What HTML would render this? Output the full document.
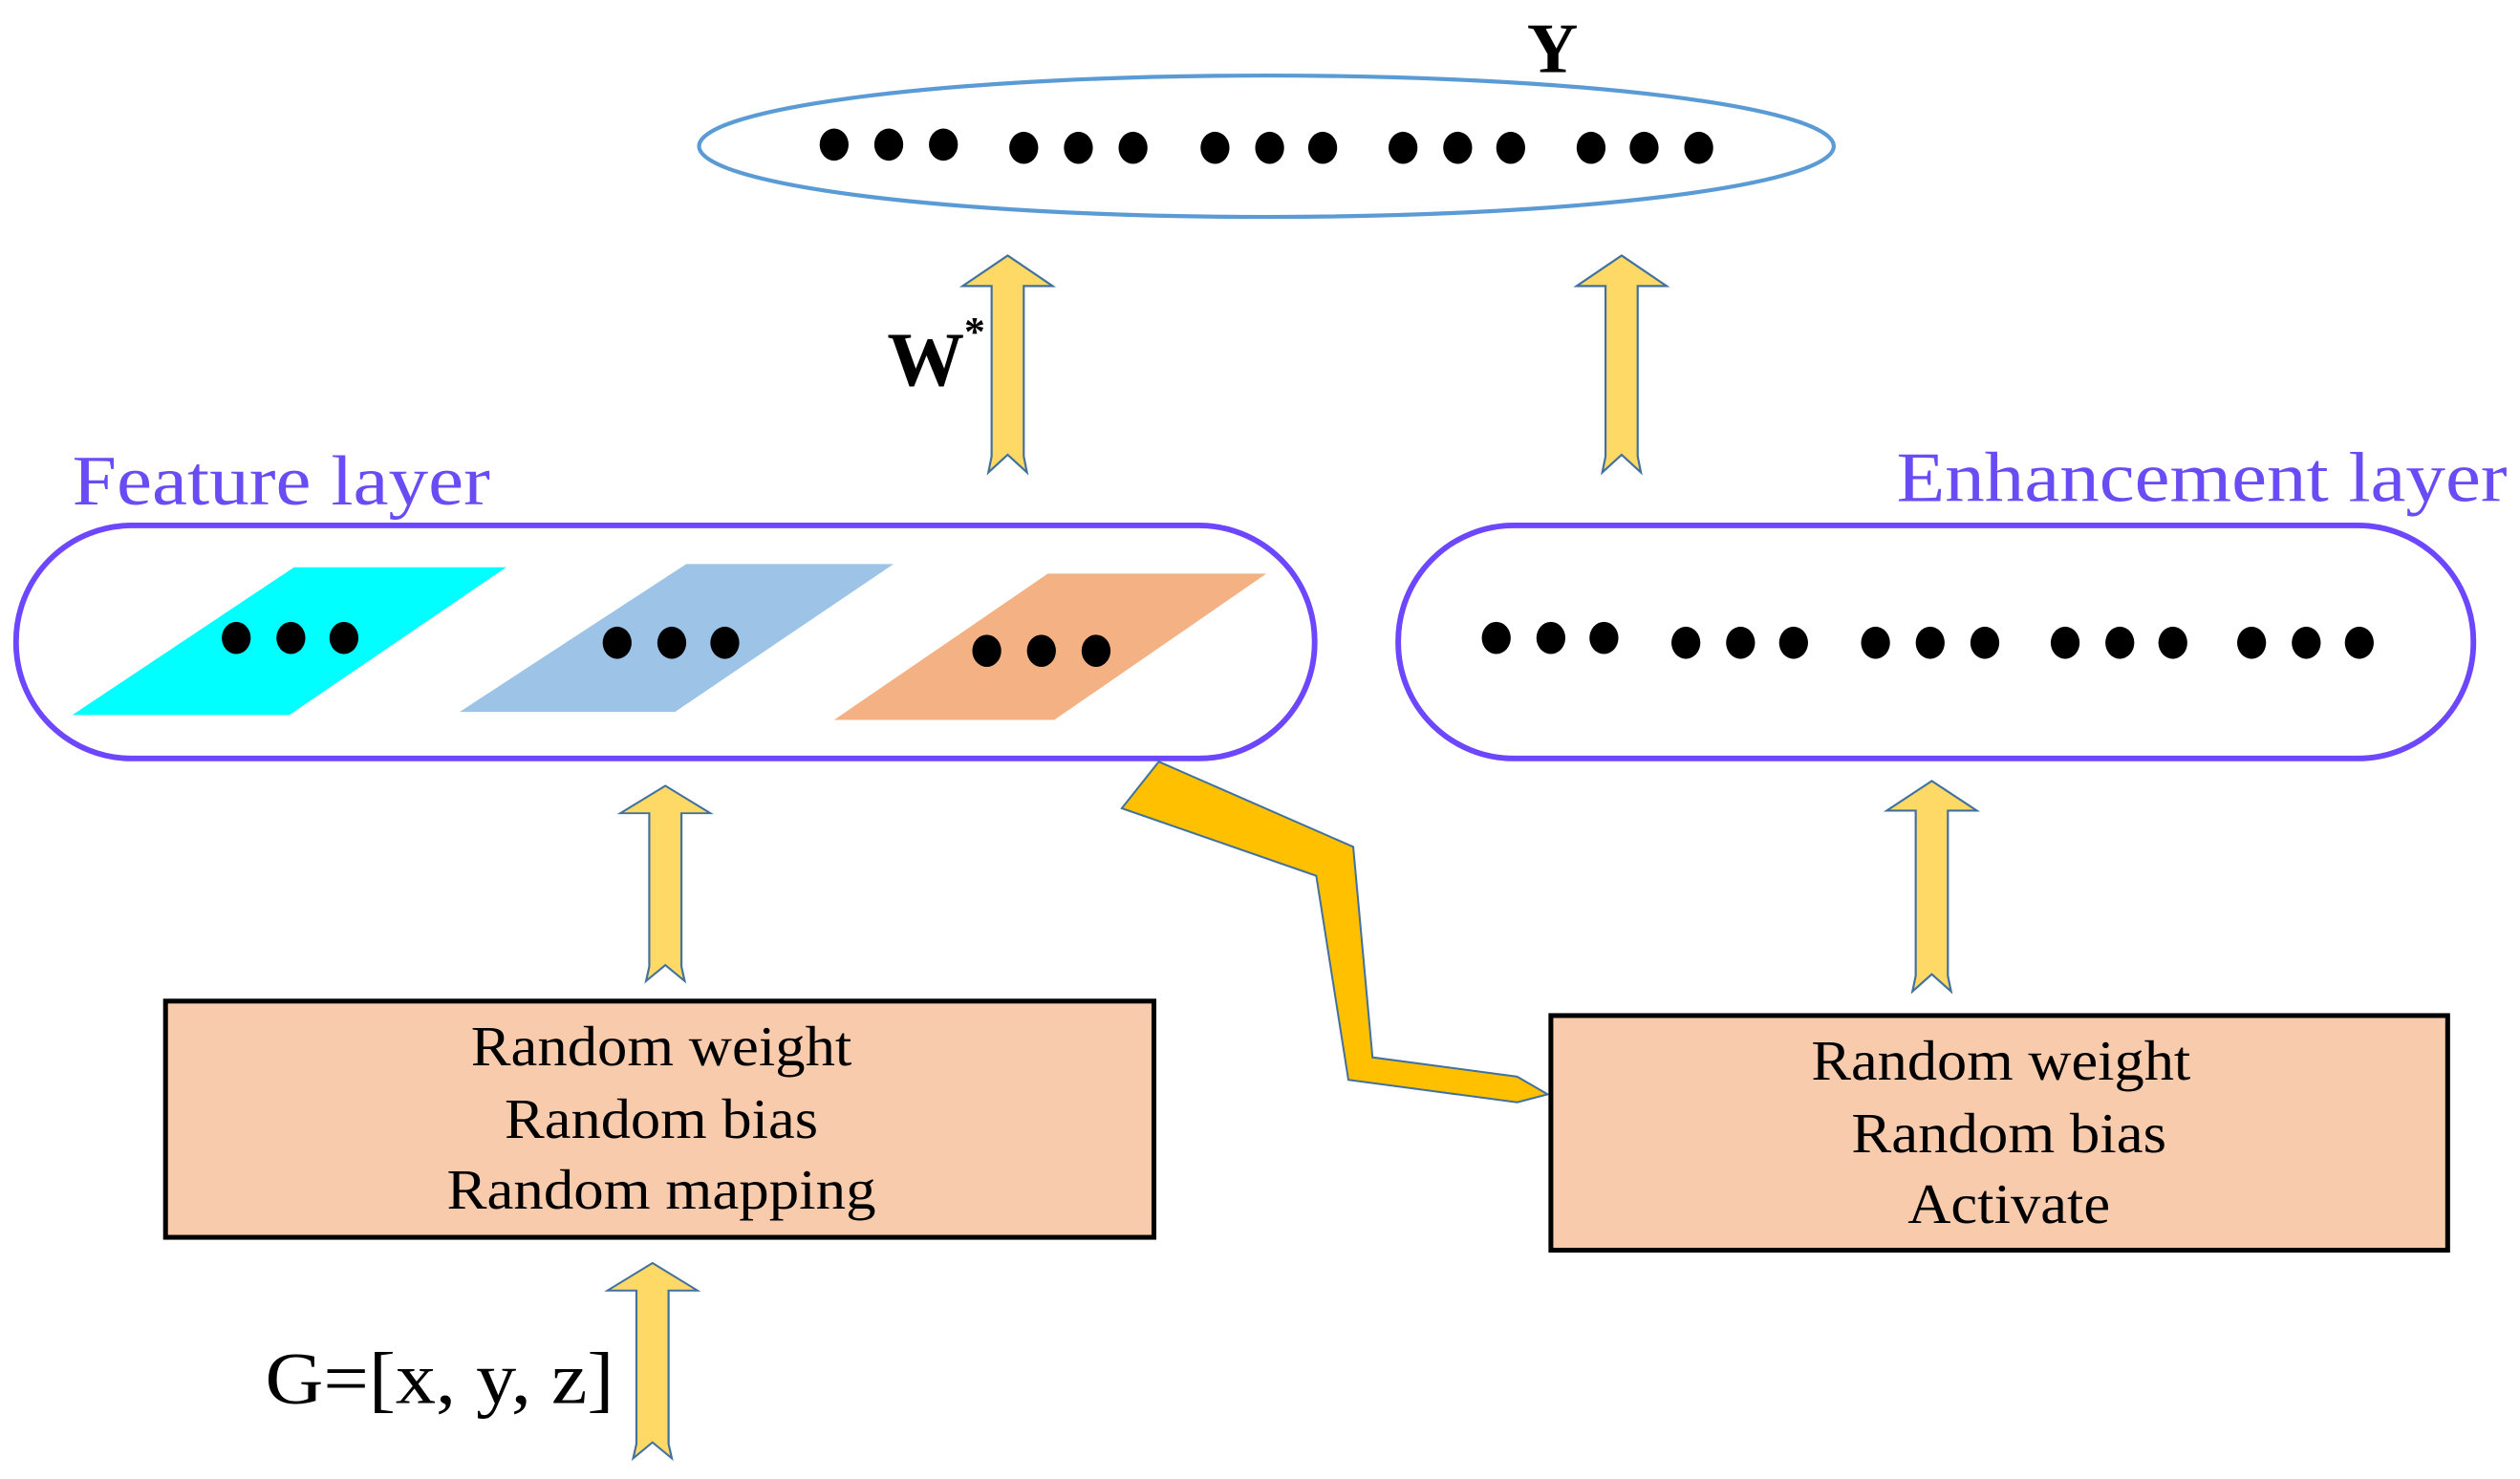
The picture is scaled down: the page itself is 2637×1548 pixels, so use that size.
<!DOCTYPE html>
<html><head><meta charset="utf-8"><style>
html,body{margin:0;padding:0;background:#fff;}
svg{display:block;}
text{font-family:"Liberation Serif",serif;}
</style></head><body>
<svg width="2637" height="1548" viewBox="0 0 1568 920.4" preserveAspectRatio="none" xmlns="http://www.w3.org/2000/svg">
<defs>
<g id="up">
<polygon points="0,0 28,19 10,19 10,125 12,135 0,124 -12,135 -10,125 -10,19 -28,19" fill="#ffd966" stroke="#41719c" stroke-width="1.3"/>
</g>
</defs>
<text x="966" y="45" font-size="44" font-weight="bold" text-anchor="middle">Y</text>
<ellipse cx="788" cy="91" rx="353" ry="44" fill="#fff" stroke="#5b9bd5" stroke-width="2.5"/>
<g fill="#000">
<ellipse cx="519" cy="90" rx="9" ry="10"/><ellipse cx="553" cy="90" rx="9" ry="10"/><ellipse cx="587" cy="90" rx="9" ry="10"/>
<ellipse cx="637" cy="92" rx="9" ry="10"/><ellipse cx="671" cy="92" rx="9" ry="10"/><ellipse cx="705" cy="92" rx="9" ry="10"/>
<ellipse cx="756" cy="92" rx="9" ry="10"/><ellipse cx="790" cy="92" rx="9" ry="10"/><ellipse cx="823" cy="92" rx="9" ry="10"/>
<ellipse cx="873" cy="92" rx="9" ry="10"/><ellipse cx="907" cy="92" rx="9" ry="10"/><ellipse cx="940" cy="92" rx="9" ry="10"/>
<ellipse cx="990" cy="92" rx="9" ry="10"/><ellipse cx="1023" cy="92" rx="9" ry="10"/><ellipse cx="1057" cy="92" rx="9" ry="10"/>
</g>
<use href="#up" transform="translate(627,159)"/>
<use href="#up" transform="translate(1009,159)"/>
<text x="552" y="240" font-size="48" font-weight="bold">W</text>
<text x="600" y="215" font-size="26" font-weight="bold">*</text>
<text x="45" y="314" font-size="44" fill="#6a4cf5" textLength="260" lengthAdjust="spacingAndGlyphs">Feature layer</text>
<text x="1180" y="312" font-size="44" fill="#6a4cf5" textLength="380" lengthAdjust="spacingAndGlyphs">Enhancement layer</text>
<rect x="10" y="327" width="808" height="145" rx="72" fill="#fff" stroke="#6c47ff" stroke-width="3.5"/>
<rect x="870" y="327" width="669" height="145" rx="72" fill="#fff" stroke="#6c47ff" stroke-width="3.5"/>
<polygon points="45,445 180,445 315,353 183,353" fill="#00ffff"/>
<polygon points="286,443 420,443 556,351 427,351" fill="#9dc3e6"/>
<polygon points="519,448 656,448 788,357 652,357" fill="#f4b183"/>
<g fill="#000">
<ellipse cx="147" cy="397" rx="9" ry="10"/><ellipse cx="181" cy="397" rx="9" ry="10"/><ellipse cx="214" cy="397" rx="9" ry="10"/>
<ellipse cx="384" cy="400" rx="9" ry="10"/><ellipse cx="418" cy="400" rx="9" ry="10"/><ellipse cx="451" cy="400" rx="9" ry="10"/>
<ellipse cx="614" cy="405" rx="9" ry="10"/><ellipse cx="648" cy="405" rx="9" ry="10"/><ellipse cx="682" cy="405" rx="9" ry="10"/>
<ellipse cx="931" cy="397" rx="9" ry="10"/><ellipse cx="965" cy="397" rx="9" ry="10"/><ellipse cx="998" cy="397" rx="9" ry="10"/>
<ellipse cx="1049" cy="400" rx="9" ry="10"/><ellipse cx="1083" cy="400" rx="9" ry="10"/><ellipse cx="1116" cy="400" rx="9" ry="10"/>
<ellipse cx="1167" cy="400" rx="9" ry="10"/><ellipse cx="1201" cy="400" rx="9" ry="10"/><ellipse cx="1235" cy="400" rx="9" ry="10"/>
<ellipse cx="1285" cy="400" rx="9" ry="10"/><ellipse cx="1319" cy="400" rx="9" ry="10"/><ellipse cx="1352" cy="400" rx="9" ry="10"/>
<ellipse cx="1401" cy="400" rx="9" ry="10"/><ellipse cx="1435" cy="400" rx="9" ry="10"/><ellipse cx="1468" cy="400" rx="9" ry="10"/>
</g>
<use href="#up" transform="translate(414,489) scale(1,0.9)"/>
<use href="#up" transform="translate(1202,486) scale(1,0.97)"/>
<use href="#up" transform="translate(406,786) scale(1,0.9)"/>
<polygon points="721,474 842,527 854,658 944,670 963,681 944,686 839,672 819,545 698,503" fill="#ffc000" stroke="#41719c" stroke-width="1.2"/>
<rect x="103" y="623" width="615" height="147" fill="#f8cbad" stroke="#000" stroke-width="3"/>
<rect x="965" y="632" width="558" height="146" fill="#f8cbad" stroke="#000" stroke-width="3"/>
<g font-size="35" lengthAdjust="spacingAndGlyphs">
<text x="293" y="663" textLength="237" lengthAdjust="spacingAndGlyphs">Random weight</text>
<text x="314" y="708" textLength="195" lengthAdjust="spacingAndGlyphs">Random bias</text>
<text x="278" y="752" textLength="267" lengthAdjust="spacingAndGlyphs">Random mapping</text>
<text x="1127" y="672" textLength="236" lengthAdjust="spacingAndGlyphs">Random weight</text>
<text x="1152" y="717" textLength="196" lengthAdjust="spacingAndGlyphs">Random bias</text>
<text x="1187" y="761" textLength="126" lengthAdjust="spacingAndGlyphs">Activate</text>
</g>
<text x="165" y="873" font-size="46" textLength="217" lengthAdjust="spacingAndGlyphs">G=[x, y, z]</text>
</svg>
</body></html>
